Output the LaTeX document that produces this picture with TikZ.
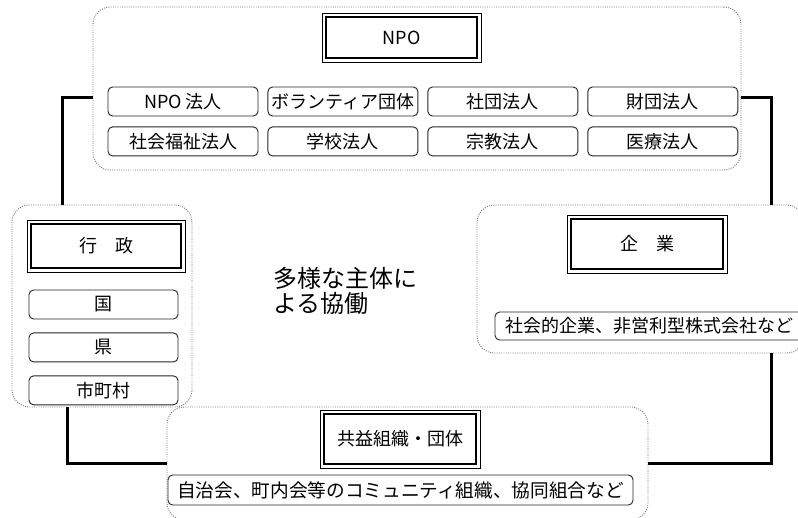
\documentclass[tikz,border=0pt]{standalone}
\usepackage{fontspec}
\setmainfont{Noto Sans CJK JP}
\usetikzlibrary{positioning}

\begin{document}
\begin{tikzpicture}[
    x=0.75pt, y=-0.75pt,
    grpbox/.style={draw=black!55, densely dotted, rounded corners=13pt, line width=0.7pt},
    titlebox/.style={draw, line width=0.5pt, outer sep=0pt, inner sep=0pt, font=\fontsize{13.5pt}{16pt}\selectfont},
    itembox/.style={draw=black!85, rounded corners=3.5pt, line width=0.7pt, minimum width=112.5pt, minimum height=21.75pt, inner sep=0pt, font=\fontsize{13.5pt}{16pt}\selectfont},
    link/.style={line width=2.25pt}
]
\useasboundingbox (0,0) rectangle (798,517);

% NPO group - title and two rows of entities
\node[grpbox, minimum width=486pt, minimum height=122.25pt] (npoGrp) at (417,88.5) {};
\node[titlebox, minimum width=119.25pt, minimum height=36.75pt] (npoT) at (401.5,37.5) {NPO};
\node[itembox] (npo1) at (183,101.5) {NPO 法人};
\node[itembox, right=6.75pt of npo1] (npo2) {ボランティア団体};
\node[itembox, right=6.75pt of npo2] (npo3) {社団法人};
\node[itembox, right=6.75pt of npo3] (npo4) {財団法人};
\node[itembox, below=7.5pt of npo1] (npo5) {社会福祉法人};
\node[itembox, right=6.75pt of npo5] (npo6) {学校法人};
\node[itembox, right=6.75pt of npo6] (npo7) {宗教法人};
\node[itembox, right=6.75pt of npo7] (npo8) {医療法人};

% Gyosei group
\node[grpbox, minimum width=135pt, minimum height=151.5pt] (gyoseiGrp) at (102,306) {};
\node[titlebox, minimum width=118.5pt, minimum height=39pt] (gyoseiT) at (106,246) {行　政};
\node[itembox, minimum width=111.75pt] (kuni) at (103.5,304.5) {国};
\node[itembox, minimum width=111.75pt, below=9.75pt of kuni] (ken) {県};
\node[itembox, minimum width=111.75pt, below=9.75pt of ken] (shichoson) {市町村};

% Kigyo group
\node[grpbox, minimum width=245.25pt, minimum height=111pt] (kigyoGrp) at (640.5,279) {};
\node[titlebox, minimum width=120pt, minimum height=43.5pt] (kigyoT) at (647,244) {企　業};
\node[itembox, minimum width=231pt, minimum height=21pt] (kigyo1) at (649,326) {社会的企業、非営利型株式会社など};

% Kyoeki group
\node[grpbox, minimum width=360.75pt, minimum height=84.75pt] (kyoekiGrp) at (407.5,463.5) {};
\node[titlebox, minimum width=120pt, minimum height=43.5pt] (kyoekiT) at (400,439) {共益組織・団体};
\node[itembox, minimum width=348.75pt, minimum height=22.5pt, font=\fontsize{14pt}{16pt}\selectfont] (kyoeki1) at (400.5,490) {自治会、町内会等のコミュニティ組織、協同組合など};

% inner frame of the title boxes
\foreach \t in {npoT, gyoseiT, kigyoT, kyoekiT}
  \draw[line width=1.5pt] ([shift={(3pt,-3pt)}]\t.north west) rectangle ([shift={(-3pt,3pt)}]\t.south east);

% Theme in the middle
\node[font=\fontsize{18pt}{19pt}\selectfont, align=left, anchor=west, inner sep=0pt] (theme) at (273,291) {多様な主体に\\よる協働};

% Links between the groups
\draw[link] ([yshift=-6.4pt]npoGrp.west) -| ([xshift=-30pt]gyoseiGrp.north);
\draw[link] ([yshift=-6.4pt]npoGrp.east) -| ([xshift=98pt]kigyoGrp.north);
\draw[link] ([xshift=-26.25pt]gyoseiGrp.south) |- (kyoekiGrp.west);
\draw[link] ([xshift=98.5pt]kigyoGrp.south) |- (kyoekiGrp.east);
\end{tikzpicture}
\end{document}
